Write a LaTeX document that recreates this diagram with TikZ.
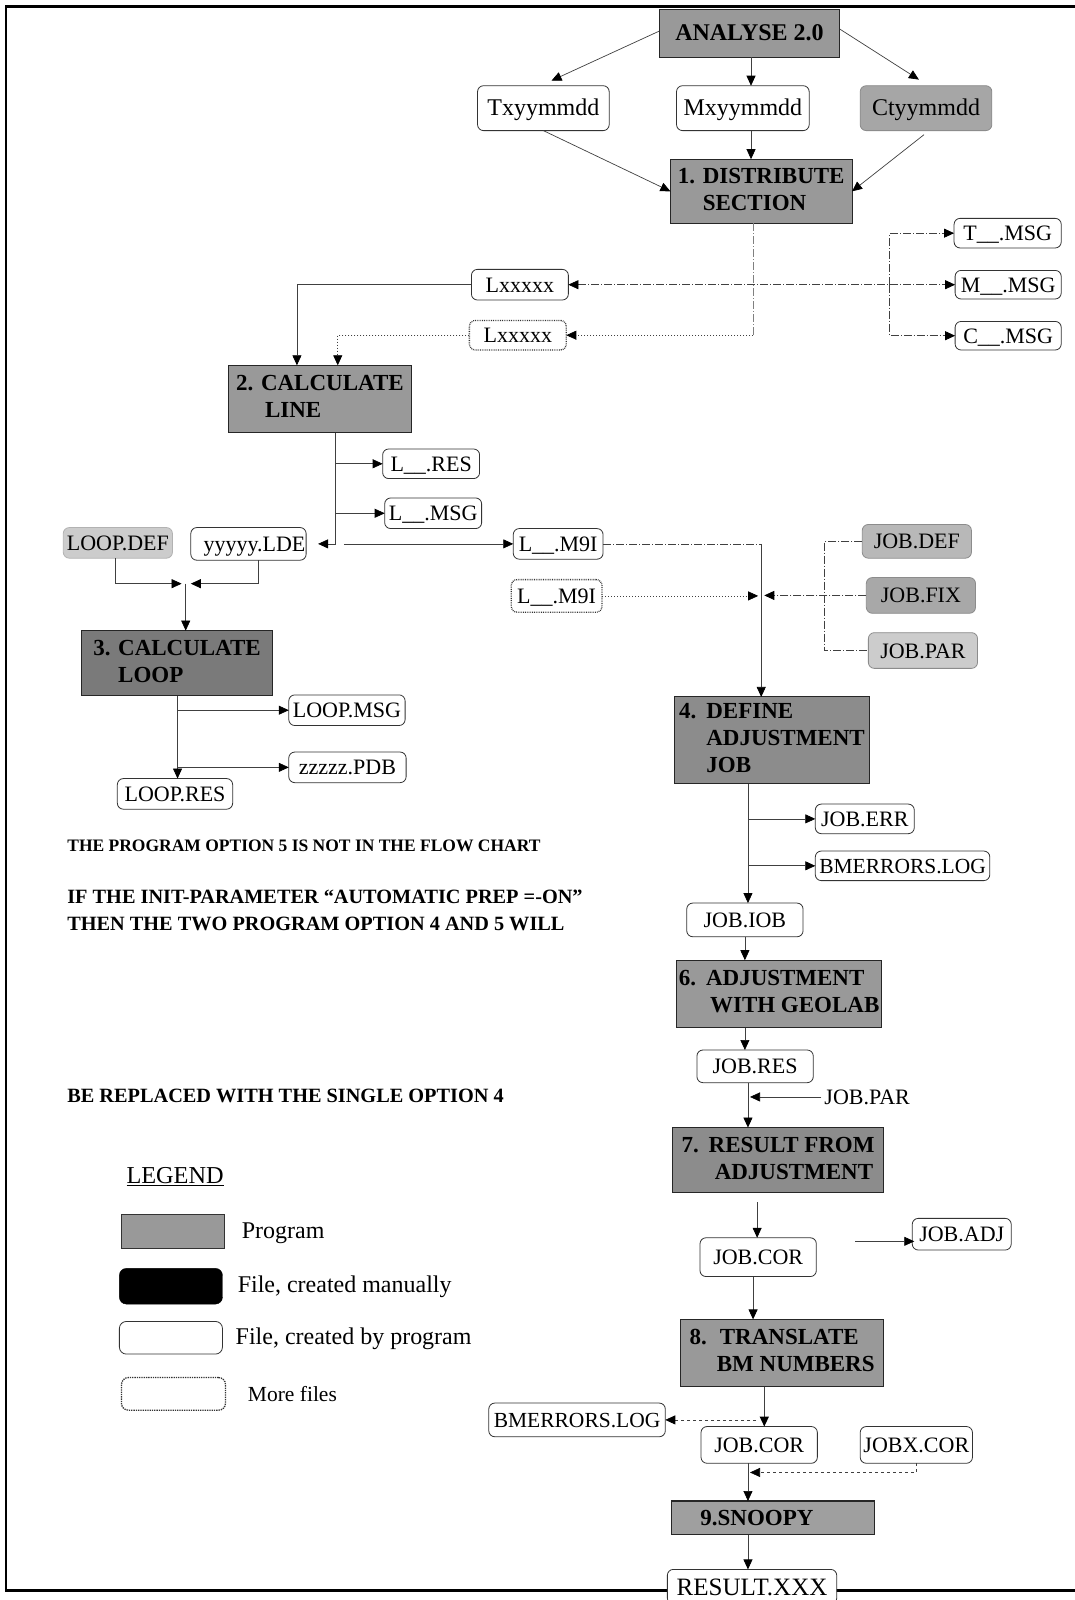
\documentclass[tikz,border=0pt]{standalone}
\usepackage{fontspec}
\setmainfont{Liberation Serif}
\usetikzlibrary{arrows.meta,calc}
\definecolor{pgm}{gray}{0.60}
\definecolor{pgmdark}{gray}{0.48}
\definecolor{pgmmid}{gray}{0.55}
\definecolor{shf}{gray}{0.72}
\definecolor{shfl}{gray}{0.80}
\definecolor{lncol}{gray}{0.25}
\begin{document}
\begin{tikzpicture}[x=1.0209pt,y=-1.0209pt,
  every node/.style={inner sep=0pt, outer sep=0pt},
  bx/.style n args={4}{at={({(#1+#3)/2},{(#2+#4)/2})}, minimum width={(#3-#1)*1.0209pt}, minimum height={(#4-#2)*1.0209pt}},
  proc/.style={draw=black!85, line width=1.1pt, fill=pgm, font=\fontsize{23}{27}\selectfont\bfseries, align=center},
  file/.style={draw=black!80, line width=0.8pt, rounded corners=6pt, fill=white, font=\fontsize{22}{25}\selectfont, text height=15pt, text depth=0pt},
  sfile/.style={file, fill=shf, draw=gray!90},
  mfile/.style={file, densely dotted, line width=1.3pt},
  note/.style={anchor=base west, font=\fontsize{20.3}{22}\selectfont\bfseries},
  legtext/.style={anchor=base west, font=\fontsize{24}{26}\selectfont},
  con/.style={draw=lncol, line width=0.7pt},
  arr/.style={con, -{Triangle[length=10pt,width=9pt,color=black]}},
  dashdot/.style={dash pattern=on 8pt off 2pt on 1pt off 2pt},
  dotline/.style={dash pattern=on 1pt off 2pt},
]
\useasboundingbox (0,0) rectangle (1053,1568);
\fill[white] (0,0) rectangle (1053,1568);

% frame
\draw[line width=2.5pt] (1053,6.5) -- (6,6.5) -- (6,1558.5) -- (1053,1558.5);

% ---------- nodes ----------
\node[proc, font=\fontsize{24}{27}\selectfont\bfseries, bx={646}{9}{823}{56}] (an) {ANALYSE 2.0};
\node[file, font=\fontsize{24}{26}\selectfont, bx={468}{84}{597}{128}] (tx) {Txyymmdd};
\node[file, font=\fontsize{24}{26}\selectfont, bx={663}{84}{793}{128}] (mx) {Mxyymmdd};
\node[sfile, font=\fontsize{24}{26}\selectfont, fill=gray!70, bx={843}{84}{972}{128}] (ct) {Ctyymmdd};
\node[proc, bx={657}{156}{835}{219}] (ds) {\begin{tabular}{@{}l@{ }l@{}}1.&DISTRIBUTE\\&SECTION\end{tabular}};

\node[file, bx={935}{214}{1040}{243}] (tmsg) {T\_\_.MSG};
\node[file, bx={936}{265}{1040}{293}] (mmsg) {M\_\_.MSG};
\node[file, bx={936}{315}{1040}{343}] (cmsg) {C\_\_.MSG};
\node[file, bx={462}{264}{557}{294}] (lx) {Lxxxxx};
\node[mfile, bx={460}{314}{555}{343}] (lxd) {Lxxxxx};

\node[proc, bx={224}{358}{403}{424}] (cl) {\begin{tabular}{@{}l@{ }l@{}}2.&CALCULATE\\&\hspace{4pt}LINE\end{tabular}};
\node[file, bx={375}{440}{470}{469}] (lres) {L\_\_.RES};
\node[file, bx={377}{488}{472}{518}] (lmsg) {L\_\_.MSG};
\node[sfile, fill=shfl, draw=gray!60, bx={62}{517}{169}{547}] (ldef) {LOOP.DEF};
\node[file, bx={187}{517}{300}{549}] (lde) {\hspace{12pt}yyyyy.LDE};
\node[file, bx={503}{518}{591}{548}] (m9) {L\_\_.M9I};
\node[mfile, bx={501}{568}{590}{600}] (m9d) {L\_\_.M9I};
\node[sfile, bx={845}{514}{952}{547}] (jdef) {JOB.DEF};
\node[sfile, fill=gray!68, bx={849}{566}{956}{601}] (jfix) {JOB.FIX};
\node[sfile, fill=shfl, bx={851}{620}{958}{655}] (jpar) {JOB.PAR};

\node[proc, fill=pgmdark, bx={80}{618}{267}{682}] (clp) {\begin{tabular}{@{}l@{ }l@{}}3.&CALCULATE\\&LOOP\end{tabular}};
\node[file, bx={283}{681}{397}{711}] (lpmsg) {LOOP.MSG};
\node[file, bx={283}{737}{398}{767}] (pdb) {zzzzz.PDB};
\node[file, bx={115}{763}{228}{793}] (lpres) {LOOP.RES};

\node[proc, fill=pgmmid, bx={661}{683}{852}{768}] (def) {\begin{tabular}{@{}l@{\hspace{10pt}}l@{}}4.&DEFINE\\&ADJUSTMENT\\&JOB\end{tabular}};
\node[file, bx={799}{788}{896}{817}] (jerr) {JOB.ERR};
\node[file, font=\fontsize{21.5}{25}\selectfont, bx={799}{834}{970}{863}] (bmlog) {BMERRORS.LOG};
\node[file, bx={673}{885}{787}{918}] (jiob) {JOB.IOB};
\node[proc, bx={663}{941}{864}{1007}] (geo) {\begin{tabular}{@{}l@{\hspace{10pt}}l@{}}6.&ADJUSTMENT\\&\hspace{4pt}WITH GEOLAB\end{tabular}};
\node[file, bx={683}{1029}{797}{1061}] (jres) {JOB.RES};
\node[anchor=west, font=\fontsize{22}{25}\selectfont] (jpar2) at (808,1075) {JOB.PAR};
\node[proc, fill=pgmmid, bx={659}{1105}{866}{1169}] (res) {\begin{tabular}{@{}l@{\hspace{10pt}}l@{}}7.&RESULT FROM\\&\hspace{6pt}ADJUSTMENT\end{tabular}};
\node[file, bx={686}{1213}{800}{1251}] (jcor) {JOB.COR};
\node[file, bx={894}{1194}{991}{1225}] (jadj) {JOB.ADJ};
\node[proc, bx={667}{1293}{866}{1359}] (tr) {\begin{tabular}{@{}l@{\hspace{10pt}}l@{}}8.&\hspace{3pt}TRANSLATE\\&BM NUMBERS\end{tabular}};
\node[file, font=\fontsize{21.5}{25}\selectfont, bx={479}{1375}{652}{1408}] (bmlog2) {BMERRORS.LOG};
\node[file, bx={687}{1398}{801}{1434}] (jcor2) {JOB.COR};
\node[file, bx={843}{1398}{953}{1434}] (jxcor) {JOBX.COR};
\node[proc, fill=gray!75, bx={658}{1471}{857}{1504}] (sn) {9.SNOOPY\hspace{32pt}};
\node[file, font=\fontsize{25}{27}\selectfont, text height=17pt, bx={654}{1538}{820}{1572}] (rx) {RESULT.XXX};

% ---------- notes ----------
\node[note, font=\fontsize{17.5}{20}\selectfont\bfseries] (n1) at (66,834) {THE PROGRAM OPTION 5 IS NOT IN THE FLOW CHART};
\node[note] (n2) at (66,885) {IF THE INIT-PARAMETER “AUTOMATIC PREP =-ON”};
\node[note] (n3) at (66,912) {THEN THE TWO PROGRAM OPTION 4 AND 5 WILL};
\node[note] (n4) at (66,1080) {BE REPLACED WITH THE SINGLE OPTION 4};

% ---------- legend ----------
\node[legtext, font=\fontsize{24.3}{26}\selectfont] (lg) at (124,1160) {\underline{LEGEND}};
\node[draw=black!80, line width=0.8pt, fill=pgm, bx={119}{1190}{220}{1223}] (lg1) {};
\node[legtext] (lg1t) at (237,1214) {Program};
\node[draw=black, fill=black, rounded corners=7pt, bx={117}{1243}{218}{1278}] (lg2) {};
\node[legtext] (lg2t) at (233,1267) {File, created manually};
\node[draw=black!80, line width=0.8pt, rounded corners=7pt, bx={117}{1295}{218}{1327}] (lg3) {};
\node[legtext] (lg3t) at (231,1318) {File, created by program};
\node[draw=black!80, line width=1.3pt, densely dotted, rounded corners=7pt, bx={119}{1350}{221}{1382}] (lg4) {};
\node[legtext, font=\fontsize{21.5}{24}\selectfont] (lg4t) at (243,1373) {More files};

% ---------- connectors ----------
\draw[arr] ($(an.west)+(0,-2)$) -- ($(tx.north)+(8,-5)$);
\coordinate (am) at ($(an.south west)+(90,0)$);
\draw[arr] (am) -- (am |- mx.north);
\draw[arr] ($(an.east)+(0,-4)$) -- ($(ct.north)+(-7,-6)$);
\draw[arr] (tx.south) -- (ds.west);
\draw[arr] (am |- mx.south) -- (am |- ds.north);
\draw[arr] ($(ct.south)+(-2,4)$) -- (ds.east);

\coordinate (dsv) at ($(ds.south west)+(81,0)$);
\coordinate (dsb) at (dsv |- lxd.east);
\draw[con, dashdot, gray] (dsv) -- (dsb);
\draw[arr, dotline] (dsb) -- (lxd.east);
\draw[con, dashdot, {Triangle[length=10pt,width=9pt,color=black]}-{Triangle[length=10pt,width=9pt,color=black]}] (lx.east) -- (lx.east -| mmsg.west);
\coordinate (jm) at ($(mmsg.west)+(-64,0)$);
\draw[arr, dashdot] (jm) |- (tmsg.west);
\draw[arr, dashdot] (jm) |- (cmsg.west);

\draw[arr] (lx.west) -| ($(cl.north west)+(67,0)$);
\draw[arr, dotline] (lxd.west) -| ($(cl.north west)+(107,0)$);

\coordinate (cb) at ($(cl.south west)+(105,0)$);
\coordinate (cj) at (cb |- lde.east);
\draw[con] (cb) -- (cj);
\draw[arr] (cb |- lres.west) -- (lres.west);
\draw[arr] (cb |- lmsg.west) -- (lmsg.west);
\draw[arr, shorten >=12pt] (cj) -- (lde.east);
\draw[arr] ($(cj)+(8,0)$) -- (cj -| m9.west);

\coordinate (mv) at ($(def.north west)+(85,0)$);
\draw[con, dashdot] (m9.east) -- (m9.east -| mv);
\draw[arr] (m9.east -| mv) -- (mv);
\draw[arr, dotline] (m9d.east) -- ($(m9d.east -| mv)+(-3,0)$);
\draw[arr, dashdot] (jfix.west) -- ($(jfix.west -| mv)+(3,0)$);
\coordinate (jb) at ($(jdef.west)+(-37,0)$);
\draw[con, dashdot] (jdef.west) -- (jb) -- (jb |- jpar.west) -- (jpar.west);

\coordinate (lj) at ($(clp.north west)+(102,-46)$);
\draw[arr] ($(ldef.south)+(-2,0)$) |- ($(lj)+(-4,0)$);
\draw[arr] ($(lde.south)+(10,0)$) |- ($(lj)+(5,0)$);
\draw[arr] (lj) -- (lj |- clp.north);

\coordinate (lb) at ($(clp.south west)+(94,0)$);
\draw[arr] (lb) -- (lb |- lpres.north);
\draw[arr] (lb |- lpmsg.west) -- (lpmsg.west);
\draw[arr] (lb |- pdb.west) -- (pdb.west);

\coordinate (db) at ($(def.south west)+(72,0)$);
\draw[arr] (db) -- (db |- jiob.north);
\draw[arr] (db |- jerr.west) -- (jerr.west);
\draw[arr] (db |- bmlog.west) -- (bmlog.west);

\draw[arr] (jiob.south) -- (jiob.south |- geo.north);
\draw[arr] (jiob.south |- geo.south) -- (jiob.south |- jres.north);
\coordinate (rb) at ($(jres.south west)+(50,0)$);
\draw[arr] (rb) -- (rb |- res.north);
\draw[arr] ($(jpar2.west)+(-3,0)$) -- ($(rb |- jpar2.west)+(2,0)$);

\coordinate (cs) at ($(jcor.north)+(-1,-35)$);
\draw[arr] (cs) -- (cs |- jcor.north);
\coordinate (ja) at ($(jadj.west)+(-56,7)$);
\draw[arr] (ja) -- ($(jadj.west)+(2,7)$);

\coordinate (tt) at ($(tr.north west)+(71,0)$);
\draw[arr] (tt |- jcor.south) -- (tt);
\coordinate (tb) at ($(tr.south west)+(82,0)$);
\draw[arr, line width=1.4pt] (tb) -- (tb |- jcor2.north);
\draw[arr, dashed] ($(tb |- bmlog2.east)+(-8,0)$) -- (bmlog2.east);

\coordinate (sb) at ($(jcor2.south west)+(46,0)$);
\draw[arr] (sb) -- (sb |- sn.north);
\draw[arr, dashed] (jxcor.south) |- ($(sb)+(2,9)$);
\draw[arr] (sb |- sn.south) -- (sb |- rx.north);
\end{tikzpicture}
\end{document}
